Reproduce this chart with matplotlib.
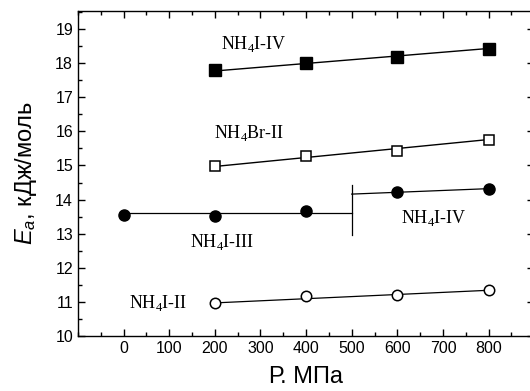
import numpy as np
import matplotlib
matplotlib.use('Agg')
import matplotlib.pyplot as plt
from matplotlib.ticker import MultipleLocator

plt.rcParams['font.family'] = ['Liberation Sans', 'DejaVu Sans']
plt.rcParams['mathtext.fontset'] = 'custom'
plt.rcParams['mathtext.rm'] = 'Liberation Serif'
plt.rcParams['mathtext.it'] = 'Liberation Sans:italic'

# data
p4 = [200, 400, 600, 800]
iv_top = [17.80, 17.99, 18.19, 18.40]
br_ii = [14.97, 15.28, 15.43, 15.74]
p_circ = [0, 200, 400, 600, 800]
iii_iv = [13.56, 13.53, 13.67, 14.22, 14.32]
i_ii = [10.96, 11.16, 11.19, 11.35]

# fitted lines (end values)
iv_fit = [17.77, 18.43]
br_fit = [14.97, 15.76]
ii_fit = [10.97, 11.34]
iii_fit = [13.60, 13.60]
iv2_fit = [14.16, 14.32]
split_p = 500
split_y = [12.96, 14.43]

fig = plt.figure(figsize=(5.30, 3.91), dpi=100)
ax = fig.add_axes([0.147, 0.1407, 0.861, 0.8313])

ax.plot([200, 800], iv_fit, color='black', lw=1)
ax.plot(p4, iv_top, 's', color='black', ms=8)

ax.plot([200, 800], br_fit, color='black', lw=1)
ax.plot(p4, br_ii, 's', mfc='white', mec='black', mew=1.1, ms=7)

ax.plot([0, split_p], iii_fit, color='black', lw=0.9)
ax.plot([split_p, 800], iv2_fit, color='black', lw=0.9)
ax.plot([split_p, split_p], split_y, color='black', lw=0.9)
ax.plot(p_circ, iii_iv, 'o', color='black', ms=8)

ax.plot([200, 800], ii_fit, color='black', lw=0.9)
ax.plot(p4, i_ii, 'o', mfc='white', mec='black', mew=1.1, ms=7.5)

tfont = dict(fontsize=13, family='Liberation Serif', va='center', ha='left')
ax.text(213, 18.55, r'NH$_4$I-IV', **tfont)
ax.text(199, 15.95, r'NH$_4$Br-II', **tfont)
ax.text(146, 12.75, r'NH$_4$I-III', **tfont)
ax.text(608, 13.45, r'NH$_4$I-IV', **tfont)
ax.text(11, 10.98, r'NH$_4$I-II', **tfont)

ax.set_xlim(-100, 900)
ax.set_ylim(10, 19.53)
ax.set_xticks([0, 100, 200, 300, 400, 500, 600, 700, 800])
ax.xaxis.set_minor_locator(MultipleLocator(50))
ax.yaxis.set_major_locator(MultipleLocator(1))
ax.yaxis.set_minor_locator(MultipleLocator(0.5))
ax.tick_params(which='both', direction='in', top=True, right=True, labelsize=11.5)
ax.tick_params(which='major', length=5, width=1)
ax.tick_params(which='minor', length=3, width=1)
for s in ax.spines.values():
    s.set_linewidth(1)

ax.set_xlabel('Р. МПа', fontsize=17, labelpad=7)
ax.set_ylabel(r'$E_a$, кДж/моль', fontsize=17, labelpad=12)

fig.savefig('out.png', dpi=100)
